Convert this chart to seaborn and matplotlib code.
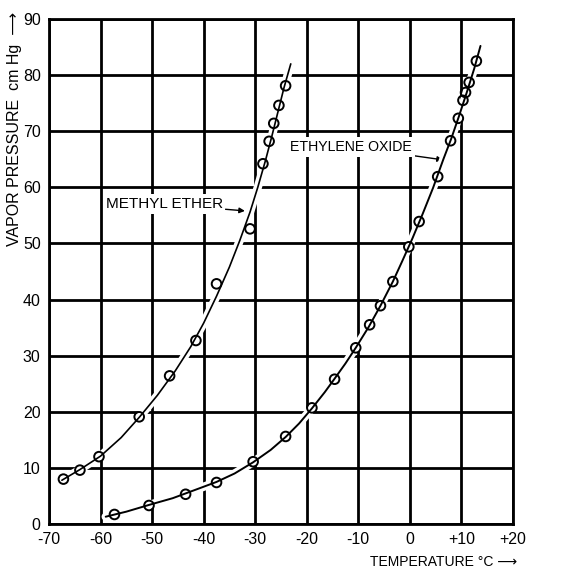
import matplotlib
matplotlib.use("Agg")
import matplotlib.pyplot as plt
import matplotlib.patheffects as pe
import seaborn as sns
import pandas as pd

me_temp = [-67.2, -64.0, -60.3, -52.5, -46.6, -41.5, -37.5, -31.0, -28.5, -27.3, -26.4, -25.4, -24.1]
me_press = [8.0, 9.6, 12.0, 19.1, 26.4, 32.7, 42.8, 52.6, 64.2, 68.2, 71.4, 74.6, 78.1]

eo_temp = [-57.3, -50.6, -43.5, -37.5, -30.4, -24.1, -19.0, -14.6, -10.5, -7.8, -5.7, -3.3,
           -0.2, 1.8, 5.4, 7.9, 9.4, 10.3, 10.8, 11.5, 12.9]
eo_press = [1.7, 3.3, 5.3, 7.4, 11.1, 15.6, 20.7, 25.8, 31.4, 35.5, 38.9, 43.2,
            49.4, 53.9, 61.9, 68.3, 72.3, 75.5, 76.9, 78.7, 82.5]

# drawn smooth curves
me_curve_t = [-67.5, -64.0, -60.0, -56.0, -52.5, -49.0, -45.5, -42.5, -40.0, -37.5, -35.0,
              -33.0, -31.0, -29.5, -28.0, -26.8, -25.6, -24.4, -23.1]
me_curve_p = [7.8, 9.7, 12.1, 15.4, 19.0, 22.9, 27.3, 31.6, 35.8, 40.6, 45.8,
              50.5, 55.6, 60.0, 64.8, 69.0, 73.4, 77.8, 82.0]

eo_curve_t = [-59.0, -55.0, -50.6, -46.0, -41.0, -37.5, -34.0, -30.4, -27.0, -24.1, -21.5,
              -19.0, -16.5, -14.6, -12.5, -10.5, -8.0, -5.7, -3.3, -1.5, 0.5, 2.5,
              4.5, 6.5, 8.0, 9.5, 11.0, 12.5, 13.7]
eo_curve_p = [1.3, 2.2, 3.4, 4.6, 6.3, 7.5, 9.0, 11.0, 13.2, 15.5, 17.9,
              20.6, 23.5, 25.9, 28.6, 31.4, 35.1, 38.9, 43.2, 46.8, 50.9, 55.3,
              59.9, 65.0, 68.6, 72.6, 76.8, 81.2, 85.2]

x_ticks = [-70, -60, -50, -40, -30, -20, -10, 0, 10, 20]
x_tick_labels = ["-70", "-60", "-50", "-40", "-30", "-20", "-10", "0", "+10", "+20"]
y_ticks = [0, 10, 20, 30, 40, 50, 60, 70, 80, 90]

sns.set_style("white")
plt.rcParams["font.family"] = ["Liberation Sans", "DejaVu Sans"]
plt.rcParams["text.color"] = "black"
plt.rcParams["axes.labelcolor"] = "black"
plt.rcParams["xtick.color"] = "black"
plt.rcParams["ytick.color"] = "black"

fig = plt.figure(figsize=(5.65, 5.70), dpi=100)
ax = fig.add_axes([0.0867, 0.0807, 0.8212, 0.886])

halo = [pe.Stroke(linewidth=6, foreground="white"), pe.Normal()]

curves = pd.DataFrame({"t": me_curve_t, "p": me_curve_p})
sns.lineplot(data=curves, x="t", y="p", ax=ax, color="black", lw=1.2,
             sort=False, path_effects=halo, zorder=3)
curves = pd.DataFrame({"t": eo_curve_t, "p": eo_curve_p})
sns.lineplot(data=curves, x="t", y="p", ax=ax, color="black", lw=1.4,
             sort=False, path_effects=halo, zorder=3)

pts = pd.concat([
    pd.DataFrame({"t": me_temp, "p": me_press, "s": "Methyl ether"}),
    pd.DataFrame({"t": eo_temp, "p": eo_press, "s": "Ethylene oxide"}),
])
sns.scatterplot(data=pts, x="t", y="p", ax=ax, s=48, marker="o",
                facecolor="none", edgecolor="black", linewidth=1.4,
                legend=False, zorder=4)

ax.set_xlim(-70, 20)
ax.set_ylim(0, 90)
ax.set_xticks(x_ticks)
ax.set_xticklabels(x_tick_labels)
ax.set_yticks(y_ticks)
ax.tick_params(length=0, labelsize=11.5, pad=6)
ax.grid(True, color="black", lw=2.0)
ax.set_axisbelow(True)
for sp in ax.spines.values():
    sp.set_color("black")
    sp.set_linewidth(2.0)

ax.set_xlabel("TEMPERATURE °C ⟶", fontsize=10)
ax.xaxis.set_label_coords(0.851, -0.062)
ax.set_ylabel("VAPOR PRESSURE  cm Hg  ⟶", fontsize=11.5)
ax.yaxis.set_label_coords(-0.058, 0.783)

box = dict(facecolor="white", edgecolor="none", pad=2)
ax.annotate("METHYL ETHER", xy=(-32.0, 55.8), xytext=(-36.3, 57.0),
            ha="right", va="center", fontsize=11, bbox=box, zorder=2.5,
            arrowprops=dict(arrowstyle="-|>", color="black", lw=1.0,
                            shrinkA=0, shrinkB=0, mutation_scale=8))
ax.annotate("ETHYLENE OXIDE", xy=(6.4, 64.9), xytext=(0.4, 67.2),
            ha="right", va="center", fontsize=10.2, bbox=box, zorder=2.5,
            arrowprops=dict(arrowstyle="-|>", color="black", lw=1.0,
                            shrinkA=0, shrinkB=0, mutation_scale=8))

fig.savefig("out.png", dpi=100)
